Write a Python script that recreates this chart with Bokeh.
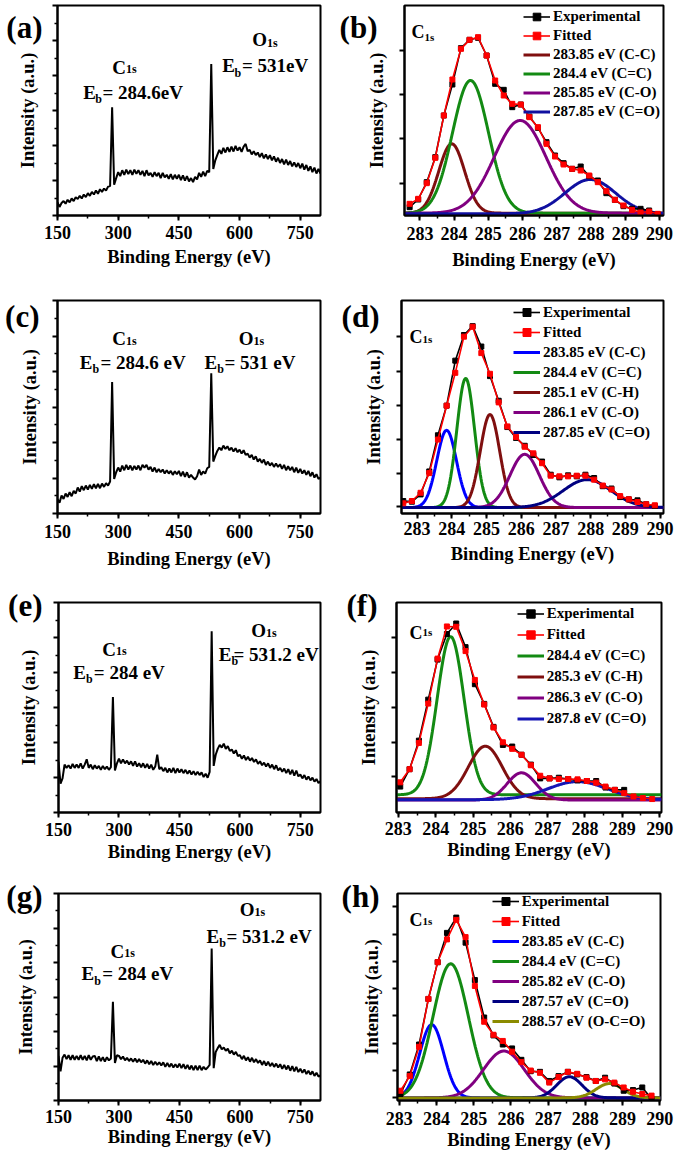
import numpy as np
from bokeh.plotting import figure
from bokeh.layouts import column, row
from bokeh.models import (Range1d, FixedTicker, SingleIntervalTicker, Label, LinearAxis,
                          Legend, LegendItem, CustomJSTickFormatter)
from bokeh.embed import file_html
from bokeh.resources import INLINE

FONT = "Liberation Serif"

# ---------------- survey spectra (a, c, e, g) ----------------
SURVEY_E = list(range(150, 805, 5))
SURVEY_A = [40, 26, 38, 44, 36, 48, 40, 52, 44, 56,
            50, 60, 52, 64, 56, 68, 60, 72, 64, 76,
            66, 80, 72, 82, 76, 88, 90, 330, 94, 114,
            132, 120, 138, 124, 140, 126, 138, 124, 140, 127,
            138, 124, 136, 120, 138, 122, 130, 118, 132, 120,
            130, 114, 130, 116, 124, 112, 126, 110, 124, 112,
            124, 108, 122, 106, 120, 104, 114, 102, 118, 110,
            130, 118, 134, 120, 136, 132, 462, 142, 168, 185,
            200, 188, 206, 192, 208, 194, 210, 195, 212, 198,
            208, 194, 210, 218, 196, 200, 186, 196, 184, 192,
            178, 190, 174, 186, 172, 184, 168, 180, 164, 176,
            160, 172, 156, 170, 154, 166, 150, 162, 148, 160,
            144, 158, 140, 154, 136, 150, 132, 146, 128, 142,
            128]
SURVEY_C = [43, 32, 54, 44, 60, 50, 64, 52, 68, 60,
            78, 66, 82, 70, 84, 72, 86, 74, 88, 76,
            89, 76, 90, 80, 91, 84, 96, 395, 104, 124,
            138, 126, 144, 130, 146, 132, 144, 130, 143, 132,
            144, 130, 146, 138, 146, 132, 140, 126, 138, 124,
            134, 124, 132, 120, 130, 120, 128, 116, 127, 118,
            128, 112, 126, 110, 124, 108, 116, 108, 102, 112,
            132, 116, 126, 120, 136, 140, 421, 156, 173, 188,
            198, 190, 204, 194, 202, 190, 198, 186, 196, 184,
            192, 180, 190, 176, 180, 168, 176, 162, 172, 156,
            164, 152, 162, 146, 156, 144, 152, 140, 150, 140,
            148, 134, 146, 130, 142, 130, 140, 124, 138, 122,
            134, 120, 130, 116, 128, 112, 124, 108, 118, 104,
            108]
SURVEY_E_ = [155, 88, 104, 146, 136, 144, 134, 148, 136, 146,
             136, 150, 134, 146, 162, 136, 146, 132, 144, 134,
             142, 130, 142, 132, 140, 130, 138, 352, 128, 150,
             164, 150, 162, 150, 158, 146, 156, 142, 156, 140,
             150, 138, 150, 136, 148, 134, 146, 130, 140, 176,
             132, 138, 126, 136, 122, 134, 122, 136, 120, 134,
             122, 132, 120, 130, 118, 128, 116, 126, 114, 124,
             114, 122, 108, 118, 106, 124, 552, 142, 176, 194,
             206, 198, 210, 194, 202, 188, 192, 180, 190, 172,
             176, 164, 174, 160, 170, 158, 166, 154, 162, 148,
             156, 144, 152, 140, 150, 136, 146, 132, 144, 128,
             136, 124, 134, 120, 132, 116, 130, 112, 128, 110,
             116, 104, 114, 100, 110, 98, 106, 94, 102, 90,
             95]
SURVEY_G = [138, 90, 132, 142, 128, 140, 126, 140, 126, 138,
            126, 140, 126, 138, 124, 140, 126, 136, 138, 122,
            136, 122, 134, 120, 134, 124, 130, 305, 116, 140,
            138, 128, 136, 124, 132, 122, 130, 120, 130, 118,
            128, 118, 126, 114, 124, 112, 122, 110, 120, 110,
            118, 108, 118, 104, 116, 104, 114, 102, 112, 102,
            114, 100, 112, 98, 110, 96, 108, 94, 108, 94,
            108, 94, 104, 96, 102, 110, 470, 100, 150, 162,
            172, 158, 164, 154, 160, 146, 154, 142, 150, 138,
            140, 128, 138, 124, 134, 120, 132, 118, 128, 116,
            124, 110, 122, 108, 120, 106, 116, 104, 114, 102,
            112, 98, 110, 96, 108, 92, 106, 90, 104, 88,
            98, 86, 96, 82, 92, 80, 90, 76, 86, 74,
            78]

# ---------------- C1s spectra (b, d, f, h) ----------------
B_E = [282.70, 282.95, 283.20, 283.45, 283.70, 283.95, 284.20, 284.45, 284.70, 284.95,
       285.20, 285.45, 285.70, 285.95, 286.20, 286.45, 286.70, 286.95, 287.20, 287.45,
       287.70, 287.95, 288.20, 288.45, 288.70, 288.95, 289.20, 289.45, 289.70, 289.95]
B_FIT = [40, 55, 102, 178, 305, 413, 505, 532, 540, 485, 410, 365, 340, 338, 300,
         270, 220, 182, 158, 145, 140, 125, 105, 78, 52, 35, 22, 14, 17, 10]
B_EXP = [30, 53, 105, 180, 305, 398, 507, 532, 538, 485, 400, 382, 330, 338, 302,
         268, 225, 185, 162, 145, 152, 123, 110, 72, 52, 33, 25, 25, 20, 8]
B_LABELS = ["283.85 eV (C-C)", "284.4 eV (C=C)", "285.85 eV (C-O)", "287.85 eV (C=O)"]
B_CENTER = [283.93, 284.48, 285.93, 287.98]
B_HEIGHT = [208, 398, 278, 103]
B_FWHM = [0.89, 1.24, 1.78, 1.74]
B_BASE = [12, 12, 12, 10]
B_COLORS = ["#7f0f0f", "#138a13", "#800080", "#1010a0"]

D_E = [282.60, 282.85, 283.10, 283.35, 283.60, 283.85, 284.10, 284.35, 284.60, 284.85,
       285.10, 285.35, 285.60, 285.85, 286.10, 286.35, 286.60, 286.85, 287.10, 287.35,
       287.60, 287.85, 288.10, 288.35, 288.60, 288.85, 289.10, 289.35, 289.60, 289.85]
D_FIT = [33, 40, 65, 125, 227, 330, 430, 540, 570, 490, 427, 340, 267, 235, 205,
         185, 155, 117, 115, 115, 117, 117, 105, 87, 75, 55, 45, 37, 30, 27]
D_EXP = [40, 38, 60, 130, 240, 330, 467, 545, 572, 510, 420, 345, 265, 232, 208,
         180, 160, 120, 112, 118, 115, 120, 110, 85, 78, 52, 45, 42, 30, 25]
D_LABELS = ["283.85 eV (C-C)", "284.4 eV (C=C)", "285.1 eV (C-H)", "286.1 eV (C-O)", "287.85 eV (C=O)"]
D_CENTER = [283.85, 284.4, 285.1, 286.1, 287.9]
D_HEIGHT = [235, 393, 283, 162, 85]
D_FWHM = [0.67, 0.6, 0.66, 1.0, 1.63]
D_BASE = [20, 20, 20, 20, 20]
D_COLORS = ["#0000ff", "#138a13", "#7f0f0f", "#800080", "#000080"]

F_E = [283.05, 283.30, 283.55, 283.80, 284.05, 284.30, 284.55, 284.80, 285.05, 285.30,
       285.55, 285.80, 286.05, 286.30, 286.55, 286.80, 287.05, 287.30, 287.55, 287.80,
       288.05, 288.30, 288.55, 288.80, 289.05, 289.30, 289.55, 289.80]
F_FIT = [90, 130, 210, 330, 467, 565, 564, 490, 402, 327, 257, 212, 192, 174,
         142, 110, 102, 100, 100, 99, 94, 89, 77, 67, 57, 47, 42, 39]
F_EXP = [77, 130, 217, 342, 464, 542, 574, 502, 389, 329, 259, 204, 199, 174,
         144, 102, 102, 104, 100, 96, 94, 94, 74, 67, 67]
F_LABELS = ["284.4 eV (C=C)", "285.3 eV (C-H)", "286.3 eV (C-O)", "287.8 eV (C=O)"]
F_CENTER = [284.4, 285.33, 286.3, 287.8]
F_HEIGHT = [482, 160, 83, 55]
F_FWHM = [0.85, 1.07, 0.9, 1.87]
F_BASE = [52, 40, 36, 37]
F_COLORS = ["#138a13", "#7f0f0f", "#800080", "#1515b5"]

H_E = [283.03, 283.28, 283.53, 283.78, 284.03, 284.28, 284.53, 284.78, 285.03, 285.28,
       285.53, 285.78, 286.03, 286.28, 286.53, 286.78, 287.03, 287.28, 287.53, 287.78,
       288.03, 288.28, 288.53, 288.78, 289.03, 289.28, 289.53, 289.78]
H_FIT = [30, 75, 165, 312, 425, 495, 555, 502, 352, 242, 202, 183, 150, 118,
         92, 85, 55, 72, 88, 82, 70, 60, 65, 55, 40, 27, 20, 15]
H_EXP = [20, 80, 172, 312, 425, 515, 562, 485, 370, 255, 200, 172, 160, 125,
         90, 88, 60, 75, 88, 80, 72, 60, 70, 52, 30, 32, 40, 5]
H_LABELS = ["283.85 eV (C-C)", "284.4 eV (C=C)", "285.82 eV (C-O)", "287.57 eV (C=O)", "288.57 eV (O-C=O)"]
H_CENTER = [283.87, 284.38, 285.81, 287.57, 288.65]
H_HEIGHT = [225, 412, 144, 65, 44]
H_FWHM = [0.76, 1.12, 1.29, 0.8, 0.85]
H_BASE = [8, 8, 8, 8, 8]
H_COLORS = ["#0000ff", "#138a13", "#800080", "#000080", "#8b8b00"]


# ---------------- layout helpers ----------------
def make_fig(frame_ref, fig_rect, x_range, y_range, x_interval, yticks, yminor, st):
    L, T, R, B = frame_ref
    fx0, fy0, fx1, fy1 = fig_rect
    pl, pt, pr, pb = round(L), round(T), round(R), round(B)
    s1, s2, als = st
    p = figure(width=fx1 - fx0, height=fy1 - fy0,
               x_range=Range1d(*x_range), y_range=Range1d(*y_range),
               output_backend="svg", toolbar_location=None,
               min_border_left=pl - fx0, min_border_right=fx1 - pr,
               min_border_top=pt - fy0, min_border_bottom=fy1 - pb)
    p.xgrid.visible = False
    p.ygrid.visible = False
    p.background_fill_color = "white"
    p.border_fill_color = "white"
    p.outline_line_color = "black"
    p.outline_line_width = 2
    p.outline_line_alpha = 1
    p.xaxis.ticker = SingleIntervalTicker(interval=x_interval, num_minor_ticks=2)
    p.yaxis.ticker = FixedTicker(ticks=yticks, minor_ticks=yminor)
    p.yaxis.formatter = CustomJSTickFormatter(code="return ''")
    for ax in (p.xaxis[0], p.yaxis[0]):
        ax.axis_line_width = 2
        ax.axis_line_color = "black"
        ax.major_tick_line_width = 2
        ax.minor_tick_line_width = 1.5
        ax.major_tick_out = 5
        ax.major_tick_in = 0
        ax.minor_tick_out = 3
        ax.minor_tick_in = 0
        ax.axis_label_text_font = FONT
        ax.axis_label_text_font_style = "bold"
        ax.axis_label_text_font_size = "18.5px"
        ax.axis_label_text_color = "black"
        ax.major_label_text_font = FONT
        ax.major_label_text_font_style = "bold"
        ax.major_label_text_font_size = "18px"
        ax.major_label_text_color = "black"
    p.xaxis.axis_label = "Binding Energy (eV)"
    p.yaxis.axis_label = "Intensity (a.u.)"
    p.xaxis.major_label_standoff = s1
    p.xaxis.axis_label_standoff = s2
    p.yaxis.major_label_standoff = 0
    p.yaxis.axis_label_standoff = als
    return p


def add_text(p, frame_ref, text, rx, ry, size, align="left", baseline="alphabetic"):
    L, T, R, B = frame_ref
    p.add_layout(Label(x=rx - L, y=B - ry, x_units="screen", y_units="screen",
                       text=text, text_font=FONT, text_font_style="bold",
                       text_font_size=f"{size}px", text_color="black",
                       text_align=align, text_baseline=baseline))


def add_panel_label(p, frame_ref, y_range, text, right_ref, cy_ref, als):
    """Panel letter drawn as the single tick label of an extra, line-less left axis."""
    L, T, R, B = frame_ref
    y0, y1 = y_range
    yv = y0 + (B - cy_ref) / (B - T) * (y1 - y0)
    inner_w = 25 + als
    d = L - right_ref
    ax = LinearAxis(ticker=FixedTicker(ticks=[yv]),
                    formatter=CustomJSTickFormatter(code=f"return '{text}'"),
                    axis_line_color=None, major_tick_line_color=None,
                    minor_tick_line_color=None, major_tick_out=0, major_tick_in=0,
                    major_label_standoff=int(round(d - inner_w)),
                    major_label_text_font=FONT, major_label_text_font_style="bold",
                    major_label_text_font_size="31px", major_label_text_color="black")
    p.add_layout(ax, "left")


def survey_panel(frame_ref, fig_rect, values, panel_label, lab_right, lab_cy, notes, st):
    yt = [640 / 6 * k for k in range(7)]
    ym = [640 / 12 + 640 / 6 * k for k in range(6)]
    p = make_fig(frame_ref, fig_rect, (150, 800), (0, 640), 150, yt, ym, st)
    p.line(SURVEY_E, values, line_color="black", line_width=2)
    add_panel_label(p, frame_ref, (0, 640), panel_label, lab_right, lab_cy, st[2])
    for txt, rx, ry, sz in notes:
        add_text(p, frame_ref, txt, rx, ry, sz)
    return p


def c1s_panel(frame_ref, fig_rect, x_range, y_range, yticks, e, fit, exp,
              labels, centers, heights, fwhms, bases, colors,
              panel_label, lab_right, lab_cy, c_pos, sub_pos, leg_ref, row_h, st):
    p = make_fig(frame_ref, fig_rect, x_range, y_range, 1, yticks, [], st)
    xs = np.linspace(x_range[0], x_range[1], 400)
    comp_renderers = []
    for c, h, w, b, col in zip(centers, heights, fwhms, bases, colors):
        ys = b + h * np.exp(-4 * np.log(2) * ((xs - c) / w) ** 2)
        comp_renderers.append(p.line(xs, ys, line_color=col, line_width=3))
    ex_l = p.line(e[:len(exp)], exp, line_color="black", line_width=1.6)
    ex_s = p.scatter(e[:len(exp)], exp, marker="square", size=5, color="black")
    fi_l = p.line(e, fit, line_color="red", line_width=1.6)
    fi_s = p.scatter(e, fit, marker="square", size=5, color="red")
    items = [LegendItem(label="Experimental", renderers=[ex_l, ex_s]),
             LegendItem(label="Fitted", renderers=[fi_l, fi_s])]
    for lab, r in zip(labels, comp_renderers):
        items.append(LegendItem(label=lab, renderers=[r]))
    L, T, R, B = frame_ref
    lx, ly = leg_ref
    n = len(items)
    leg = Legend(items=items, location=(lx - L, (B - ly) - n * row_h),
                 glyph_width=27, glyph_height=row_h, label_height=row_h,
                 label_standoff=3, padding=0, margin=0, spacing=0,
                 border_line_alpha=0, background_fill_alpha=0,
                 label_text_font=FONT, label_text_font_style="bold",
                 label_text_font_size="15px", label_text_color="black")
    p.add_layout(leg)
    add_panel_label(p, frame_ref, y_range, panel_label, lab_right, lab_cy, st[2])
    add_text(p, frame_ref, "C", c_pos[0], c_pos[1], 18)
    add_text(p, frame_ref, "1s", sub_pos[0], sub_pos[1], 11)
    return p


LX0, LX1, RX1 = 0, 336, 675
ROWS = [(0, 292), (292, 580), (580, 870), (870, 1155)]

FA = (57, 5, 320, 218)
FB = (402, 5, 663, 215)
FC = (57, 299, 320, 513)
FD = (401, 300, 663, 516)
FE = (58, 602, 320, 815)
FF = (396, 598, 661, 812)
FG = (58, 893, 320, 1106)
FH = (397, 888, 660, 1100)

pa = survey_panel(FA, (LX0, ROWS[0][0], LX1, ROWS[0][1]), SURVEY_A, "(a)", 45, 8, [
    ("C", 111.7, 70, 19), ("1s", 125.5, 71.7, 12), ("E", 82.7, 95, 19), ("b", 94.8, 101.7, 12),
    ("= 284.6eV", 102, 95, 19), ("O", 251.7, 41.7, 19), ("1s", 266.5, 45, 12),
    ("E", 221.7, 68.3, 19), ("b", 234, 75, 12), ("= 531eV", 241.5, 68.3, 19)], (5, 5, 15))
pc = survey_panel(FC, (LX0, ROWS[1][0], LX1, ROWS[1][1]), SURVEY_C, "(c)", 42, 302, [
    ("C", 111.7, 338.3, 19), ("1s", 125.5, 340, 12), ("E", 79.3, 361.7, 19), ("b", 92, 368, 12),
    ("= 284.6 eV", 100, 361.7, 19), ("O", 238.3, 338.3, 19), ("1s", 253, 340, 12),
    ("E", 204, 361.7, 19), ("b", 216.7, 368, 12), ("= 531 eV", 224, 361.7, 19)], (6, 8, 13))
pe = survey_panel(FE, (LX0, ROWS[2][0], LX1, ROWS[2][1]), SURVEY_E_, "(e)", 45, 605, [
    ("C", 101.7, 651.7, 19), ("1s", 115.5, 653, 12), ("E", 72.7, 675, 19), ("b", 85.4, 681, 12),
    ("= 284 eV", 93.3, 675, 19), ("O", 250.7, 633.3, 19), ("1s", 265.5, 635, 12),
    ("E", 218.3, 656.7, 19), ("b", 231, 663, 12), ("= 531.2 eV", 233, 656.7, 19)], (5, 3, 15))
pg = survey_panel(FG, (LX0, ROWS[3][0], LX1, ROWS[3][1]), SURVEY_G, "(g)", 45, 896, [
    ("C", 110, 956.7, 19), ("1s", 123.7, 958, 12), ("E", 81, 979.3, 19), ("b", 93.7, 986, 12),
    ("= 284 eV", 101.7, 979.3, 19), ("O", 239.3, 915, 19), ("1s", 254, 917, 12),
    ("E", 206, 941.7, 19), ("b", 218.7, 948, 12), ("= 531.2 eV", 226, 941.7, 19)], (4, 1, 18))

pb = c1s_panel(FB, (LX1, ROWS[0][0], RX1, ROWS[0][1]), (282.55, 290.12), (5, 635),
               [102, 235, 367, 500], B_E, B_FIT, B_EXP, B_LABELS, B_CENTER, B_HEIGHT,
               B_FWHM, B_BASE, B_COLORS, "(b)", 378, 8, (409, 31.7), (422, 36.7),
               (521, 7), 19, (6, 7, 13))
pd = c1s_panel(FD, (LX1, ROWS[1][0], RX1, ROWS[1][1]), (282.55, 290.1), (2, 650),
               [23, 125, 228, 332, 435, 540], D_E, D_FIT, D_EXP, D_LABELS, D_CENTER, D_HEIGHT,
               D_FWHM, D_BASE, D_COLORS, "(d)", 382, 303, (409, 339), (422, 341),
               (513, 305), 20, (3, 6, 13))
pf = c1s_panel(FF, (LX1, ROWS[2][0], RX1, ROWS[2][1]), (282.95, 290.05), (-2, 638),
               [107, 212, 319, 424, 532], F_E, F_FIT, F_EXP, F_LABELS, F_CENTER, F_HEIGHT,
               F_FWHM, F_BASE, F_COLORS, "(f)", 380, 601, (409, 632.7), (422, 631),
               (516.7, 603), 21, (4, 2, 13))
ph = c1s_panel(FH, (LX1, ROWS[3][0], RX1, ROWS[3][1]), (282.95, 290.02), (0, 636),
               [10, 93, 175, 260, 343, 427, 510, 595], H_E, H_FIT, H_EXP, H_LABELS, H_CENTER,
               H_HEIGHT, H_FWHM, H_BASE, H_COLORS, "(h)", 382, 891, (409, 919.3), (422, 920),
               (491.7, 891), 20, (6, 2, 11))

layout = column(row(pa, pb, spacing=0), row(pc, pd, spacing=0),
                row(pe, pf, spacing=0), row(pg, ph, spacing=0), spacing=0)

open("out.html", "w").write(file_html(layout, INLINE))
